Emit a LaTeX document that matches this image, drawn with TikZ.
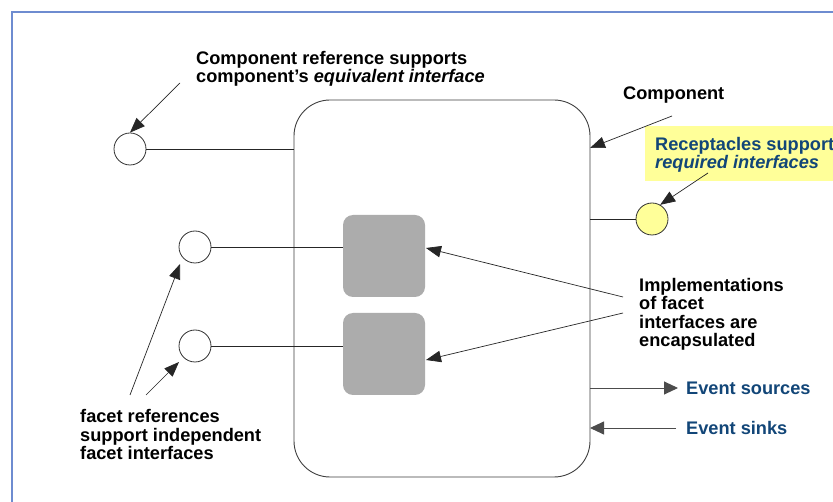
\documentclass[tikz,border=0pt]{standalone}
\usepackage{fontspec}
\setmainfont{Liberation Sans}
\usetikzlibrary{arrows.meta}
\definecolor{frameblue}{RGB}{110,140,208}
\definecolor{labelblue}{RGB}{18,70,120}
\definecolor{implgray}{RGB}{172,172,172}
\definecolor{noteyellow}{RGB}{255,255,153}
\begin{document}
\begin{tikzpicture}[x=1pt,y=-1pt,
  txt/.style={inner sep=0pt,anchor=base west,align=left,
    font=\fontsize{18.2}{18.3}\selectfont\bfseries},
  bluetxt/.style={txt,text=labelblue},
  port/.style={circle,draw=black!80,fill=white,minimum size=32pt,inner sep=0pt,line width=0.8pt},
  impl/.style={rectangle,rounded corners=10pt,fill=implgray,minimum width=82pt,minimum height=82pt,inner sep=0pt},
  wire/.style={draw=black!85,line width=0.8pt},
  pointer/.style={draw=black!85,line width=0.7pt,-{Triangle[length=15pt,width=11.5pt]}},
  evarrow/.style={draw=black!70,line width=0.9pt,-{Triangle[length=14pt,width=13pt]}}]
\useasboundingbox (0,0) rectangle (833,502);
\clip (0,0) rectangle (833,502);
\fill[white] (0,0) rectangle (833,502);

% slide frame
\draw[frameblue,line width=1.8pt] (12,502) -- (12,12) -- (833,12);

% component body
\node (comp) [draw=black!75,line width=0.9pt,rounded corners=36pt,
  minimum width=296pt,minimum height=377pt,inner sep=0pt] at (442,288.5) {};

% facet implementations
\node (impA) [impl] at (384,256) {};
\node (impB) [impl] at (384,354) {};

% ports
\node (cref) [port] at (130,149) {};
\node (facA) [port] at (195,247) {};
\node (facB) [port] at (195,346) {};
\node (recp) [port,fill=noteyellow] at (652,219) {};

\coordinate (compL) at (294,149);
\coordinate (compR) at (590,219);
\draw[wire] (cref.east) -- (compL);
\draw[wire] (facA.east) -- (facA.east -| impA.west);
\draw[wire] (facB.east) -- (facB.east -| impB.west);
\draw[wire] (compR) -- (recp.west);

% labels (anchored at the baseline of their last line)
\node (lcref) [txt] at (196,82.5) {Component reference supports\\component’s \textit{equivalent interface}};
\node (lcomp) [txt] at (623,99.5) {Component};
\node (lrecbg) [fill=noteyellow,inner sep=0pt,minimum width=200pt,minimum height=55pt,anchor=north west] at (645,126) {};
\node (lrec) [bluetxt] at (655,168.5) {Receptacles support\\\textit{required interfaces}};
\node (limpl) [txt] at (639,346.5) {Implementations\\of facet\\interfaces are\\encapsulated};
\node (lsrc) [bluetxt] at (686,395) {Event sources};
\node (lsnk) [bluetxt] at (686,434.5) {Event sinks};
\node (lfac) [txt] at (80,459.5) {facet references\\support independent\\facet interfaces};

% pointer arrows
\coordinate (p1) at (180,83);
\draw[pointer] (p1) -- (cref.north);
\coordinate (p2) at (672,116);
\coordinate (p2e) at (590,148);
\draw[pointer] (p2) -- (p2e);
\coordinate (p3) at (708,173);
\draw[pointer] (p3) -- (recp.60);
\coordinate (p4a) at (623,297);
\coordinate (p4b) at (623,313);
\coordinate (t4a) at (426,248);
\coordinate (t4b) at (426,360);
\draw[pointer] (p4a) -- (t4a);
\draw[pointer] (p4b) -- (t4b);
\coordinate (p5a) at (130,395);
\coordinate (p5b) at (146,395);
\coordinate (t5a) at (180,264);
\coordinate (t5b) at (179,362);
\draw[pointer] (p5a) -- (t5a);
\draw[pointer] (p5b) -- (t5b);

% event ports
\coordinate (srcS) at (590,388);
\coordinate (srcE) at (678,388);
\coordinate (snkS) at (676,428);
\coordinate (snkE) at (590,428);
\draw[evarrow] (srcS) -- (srcE);
\draw[evarrow] (snkS) -- (snkE);
\end{tikzpicture}
\end{document}
